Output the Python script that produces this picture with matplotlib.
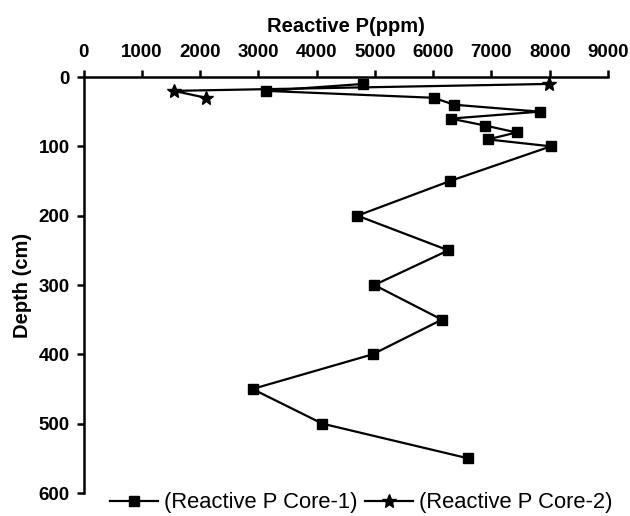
import matplotlib
matplotlib.use("Agg")
import matplotlib.pyplot as plt

# Core-1 reactive P (ppm) versus depth (cm)
depth_core1 = [10, 20, 30, 40, 50, 60, 70, 80, 90, 100, 150, 200, 250, 300, 350, 400, 450, 500, 550]
p_core1 = [4800, 3130, 6010, 6360, 7830, 6300, 6890, 7430, 6940, 8020,
           6290, 4700, 6260, 4990, 6150, 4960, 2900, 4100, 6600]

# Core-2 reactive P (ppm) versus depth (cm)
depth_core2 = [10, 20, 30]
p_core2 = [7990, 1550, 2100]

x_ticks = [0, 1000, 2000, 3000, 4000, 5000, 6000, 7000, 8000, 9000]
y_ticks = [0, 100, 200, 300, 400, 500, 600]

plt.rcParams['font.family'] = ['Liberation Sans', 'DejaVu Sans']

fig = plt.figure(figsize=(6.3, 5.16), dpi=100)
ax = fig.add_axes([83.5 / 630, 23 / 516, 524.5 / 630, 416 / 516])

ax.plot(p_core1, depth_core1, color='black', linewidth=1.6, marker='s',
        markersize=7.5, label='(Reactive P Core-1)')
ax.plot(p_core2, depth_core2, color='black', linewidth=1.6, marker='*',
        markersize=10, label='(Reactive P Core-2)')

ax.set_xlim(0, 9000)
ax.set_ylim(600, 0)
ax.set_xticks(x_ticks)
ax.set_yticks(y_ticks)

ax.xaxis.tick_top()
ax.xaxis.set_label_position('top')
ax.spines['right'].set_visible(False)
ax.spines['bottom'].set_visible(False)
ax.spines['top'].set_linewidth(1.8)
ax.spines['left'].set_linewidth(1.8)
ax.tick_params(axis='both', direction='out', length=5, width=1.8, labelsize=13.5)
ax.tick_params(axis='x', pad=6.5)
ax.tick_params(axis='y', pad=5)
for lbl in ax.get_xticklabels() + ax.get_yticklabels():
    lbl.set_fontweight('bold')

ax.set_xlabel('Reactive P(ppm)', fontsize=14.5, fontweight='bold', labelpad=9)
ax.set_ylabel('Depth (cm)', fontsize=14.5, fontweight='bold', labelpad=5)

ax.legend(loc='center', bbox_to_anchor=(0.573, 0.0252), bbox_transform=fig.transFigure,
          ncol=2, frameon=False, fontsize=15.8, handlelength=2.2, handletextpad=0.25,
          columnspacing=0.35, borderpad=0, borderaxespad=0)

fig.savefig('out.png', dpi=100)
plt.close(fig)
